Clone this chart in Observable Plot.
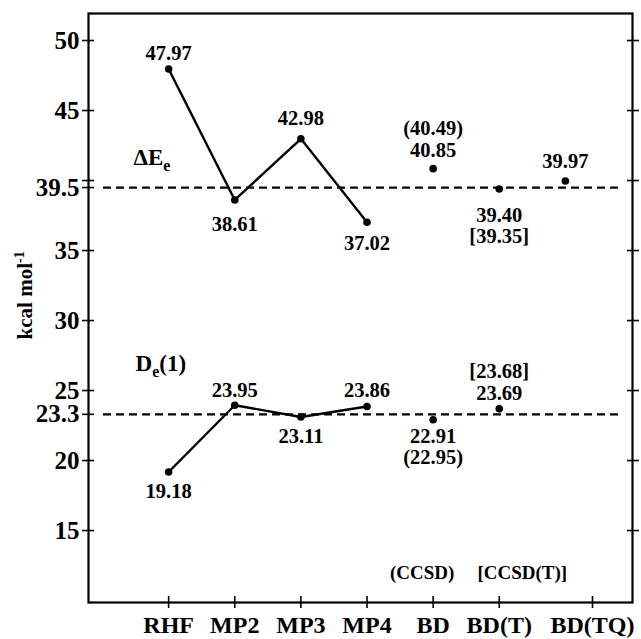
<!DOCTYPE html>
<html><head><meta charset="utf-8">
<script src="https://cdn.jsdelivr.net/npm/d3@7"></script>
<script src="https://cdn.jsdelivr.net/npm/@observablehq/plot@0.6"></script>
<style>
html,body{margin:0;padding:0;background:#fff;}
#chart svg{display:block;}
</style>
</head><body><div id="chart"></div>
<script>
// ---- data ----
const methods   = ["RHF", "MP2", "MP3", "MP4", "BD", "BD(T)", "BD(TQ)"];
const methodPos = [1, 2, 3, 4, 5, 6, 7];          // x position of each point
const tickPos   = [1, 2, 3, 4, 5, 6, 7.41];       // x position of each category tick
const dEe       = [47.97, 38.61, 42.98, 37.02, 40.85, 39.40, 39.97];
const de1       = [19.18, 23.95, 23.11, 23.86, 22.91, 23.69, null];
const connected = 4;                              // RHF..MP4 joined by a line
const ccsdPos   = [5, 5];   const ccsdVal  = [40.85, 22.91]; const ccsdText  = ["(40.49)", "(22.95)"];
const ccsdTPos  = [6, 6];   const ccsdTVal = [39.40, 23.69]; const ccsdTText = ["[39.35]", "[23.68]"];
const refValues = [39.5, 23.3];
const yTicks      = [50, 45, 40, 39.5, 35, 30, 25, 23.3, 20, 15];
const yTickLabels = ["50", "45", "", "39.5", "35", "30", "25", "23.3", "20", "15"];
const rightTicks  = [15, 20, 25, 30, 35, 40, 45, 50];
const seriesMain = ["ΔE", "D"];
const seriesSub  = ["e", "e"];
const seriesTail = ["", "(1)"];
const seriesX    = [0.47, 0.50];
const seriesY    = [41.6, 26.9];
const notes      = ["(CCSD)", "[CCSD(T)]"];
const notesPos   = [5, 6];
const notesY     = [12.0, 12.0];
const yTitle     = "kcal mol";
const yTitleSup  = "-1";

// label offsets (px) for the value labels
const dEeDy  = [-16, 24, -20, 21, -18, 27, -20];
const de1Dy  = [19, -15, 19, -16, 17, -15];
const ccsdDy = [-40, 38];
const ccsdTDy = [48, -37];
const notesDx = [-11, 23];

// ---- tables built from the arrays ----
const ptsE = methods.map((m, i) => ({x: methodPos[i], y: dEe[i], t: dEe[i].toFixed(2), dy: dEeDy[i]}));
const ptsD = methods.map((m, i) => ({x: methodPos[i], y: de1[i], t: de1[i] == null ? "" : de1[i].toFixed(2), dy: de1Dy[i]})).filter(d => d.y != null);
const extra = [
  ...ccsdText.map((t, i) => ({x: ccsdPos[i], y: ccsdVal[i], t, dy: ccsdDy[i]})),
  ...ccsdTText.map((t, i) => ({x: ccsdTPos[i], y: ccsdTVal[i], t, dy: ccsdTDy[i]}))
];
const allLabels = [...ptsE, ...ptsD, ...extra];
const series = seriesMain.map((m, i) => ({x: seriesX[i], y: seriesY[i], t: m}));
const noteRows = notes.map((t, i) => ({x: notesPos[i], y: notesY[i], t, dx: notesDx[i]}));

const labelFmt = v => { const i = tickPos.indexOf(v); return i >= 0 ? methods[i] : ""; };
const yFmt = v => { const i = yTicks.indexOf(v); return i >= 0 ? yTickLabels[i] : ""; };

const chart = Plot.plot({
  width: 641, height: 639,
  marginLeft: 88, marginRight: 9, marginTop: 13, marginBottom: 37,
  x: {type: "linear", domain: [-0.212, 8.015]},
  y: {domain: [9.86, 51.93]},
  style: {fontFamily: "'Liberation Serif','Times New Roman',serif", fontWeight: "bold", color: "#000", background: "#fff", overflow: "visible"},
  marks: [
    Plot.frame({stroke: "#000", strokeWidth: 2.2}),
    // left axis
    Plot.axisY(yTicks, {anchor: "left", tickSize: 12, dx: 6, text: null, strokeWidth: 1.6, label: null}),
    Plot.axisY(yTicks, {anchor: "left", tickSize: 0, tickPadding: 9, tickFormat: yFmt, fontSize: 25, label: null}),
    // right axis
    Plot.axisY(rightTicks, {anchor: "right", tickSize: 12, dx: -6, text: null, strokeWidth: 1.6, label: null}),
    // bottom axis
    Plot.axisX(tickPos, {anchor: "bottom", tickSize: 12, dy: -6, text: null, strokeWidth: 1.6, label: null}),
    Plot.axisX(tickPos, {anchor: "bottom", tickSize: 0, tickPadding: 13, tickFormat: labelFmt, fontSize: 24, label: null}),
    // reference lines
    Plot.ruleY(refValues, {insetLeft: 15, insetRight: 14, strokeWidth: 2.2, strokeDasharray: "8,5", stroke: "#000"}),
    // lines
    Plot.line(ptsE.slice(0, connected), {x: "x", y: "y", strokeWidth: 2.4, stroke: "#000"}),
    Plot.line(ptsD.slice(0, connected), {x: "x", y: "y", strokeWidth: 2.4, stroke: "#000"}),
    Plot.dot([...ptsE, ...ptsD], {x: "x", y: "y", r: 3.8, fill: "#000", stroke: "none"}),
    // value labels (one mark per label so each has its own constant offset)
    ...allLabels.map(d => Plot.text([d], {x: "x", y: "y", text: "t", dy: d.dy, fontSize: 20.5, fill: "#000"})),
    // series labels
    Plot.text(series, {x: "x", y: "y", text: "t", textAnchor: "start", fontSize: 23, fill: "#000"}),
    // method notes
    ...noteRows.map(d => Plot.text([d], {x: "x", y: "y", text: "t", dx: d.dx, fontSize: 19, fill: "#000"})),
    // y axis title
    Plot.text([yTitle], {frameAnchor: "left", y: () => 31.8, text: d => d, rotate: -90, dx: -63, textAnchor: "middle", fontSize: 21, fill: "#000"})
  ]
});

// subscripts / superscripts
d3.select(chart).selectAll("text").each(function() {
  const t = d3.select(this);
  if (this.querySelector("tspan")) return;
  const s = this.textContent;
  const i = seriesMain.indexOf(s);
  if (i >= 0) {
    t.text(seriesMain[i]);
    t.append("tspan").attr("font-size", 16).attr("dy", 6).text(seriesSub[i]);
    if (seriesTail[i]) t.append("tspan").attr("font-size", 23).attr("dy", -6).text(seriesTail[i]);
  } else if (s === yTitle) {
    t.append("tspan").attr("font-size", 14).attr("dy", -8).text(yTitleSup);
  }
});

document.getElementById("chart").appendChild(chart);
</script>
</body></html>
